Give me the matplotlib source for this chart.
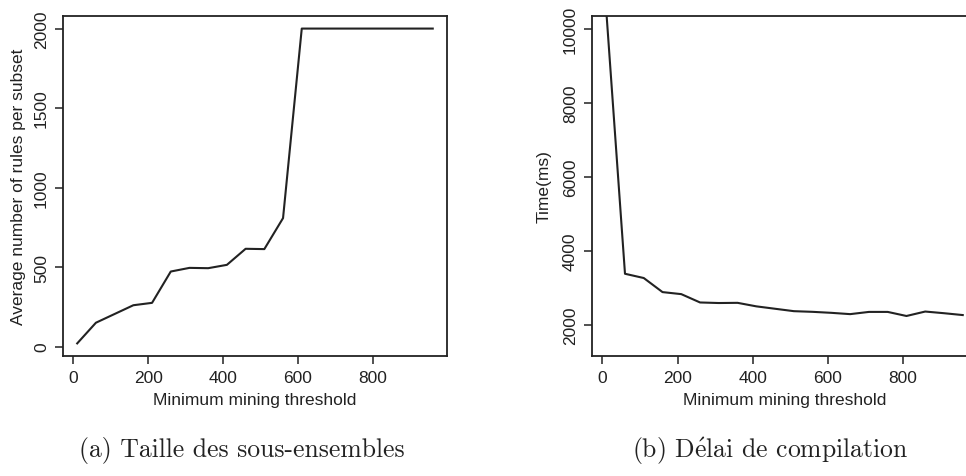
import numpy as np
from matplotlib import pyplot as plt

# minimum mining threshold (x), shared by both panels
thresholds = [10, 60, 110, 160, 210, 260, 310, 360, 410, 460,
              510, 560, 610, 660, 710, 760, 810, 860, 910, 960]

# (a) average number of rules per subset
rules_per_subset = [20, 150, 205, 260, 275, 472, 495, 493, 514, 615,
                    613, 808, 2000, 2000, 2000, 2000, 2000, 2000, 2000, 2000]

# (b) compilation time in ms (first value runs off the top of the plot)
compile_time_ms = [10500, 3380, 3265, 2885, 2830, 2605, 2590, 2595, 2500, 2435,
                   2370, 2352, 2325, 2290, 2350, 2350, 2240, 2360, 2315, 2265]

x_ticks = [0, 200, 400, 600, 800]
y_ticks_a = [0, 500, 1000, 1500, 2000]
y_ticks_b = [2000, 4000, 6000, 8000, 10000]

x_label = "Minimum mining threshold"
y_label_a = "Average number of rules per subset"
y_label_b = "Time(ms)"
caption_a = "(a) Taille des sous-ensembles"
# cmr10 has no é, so the accent goes through mathtext (cm fontset)
caption_b = r"(b) D$\acute{\mathrm{e}}$lai de compilation"

ink = "#222222"
plt.rcParams['font.family'] = ['Liberation Sans', 'DejaVu Sans']
plt.rcParams['font.size'] = 12.5
plt.rcParams['mathtext.fontset'] = 'cm'

fig = plt.figure(figsize=(9.66, 4.77), dpi=100)
ax_a = fig.add_axes([0.0652, 0.2516, 0.3975, 0.7128])
ax_b = fig.add_axes([0.6128, 0.2516, 0.3986, 0.7128])


def r_style(ax, yticks):
    for sp in ax.spines.values():
        sp.set_linewidth(1.3)
        sp.set_color(ink)
    ax.set_xticks(x_ticks)
    ax.set_yticks(yticks)
    ax.tick_params(direction='out', length=6, width=1.1, color=ink,
                   labelcolor=ink, pad=4)
    for lab in ax.get_yticklabels():
        lab.set_rotation(90)
        lab.set_va('center')


def pad_range(vals, frac=0.04):
    lo, hi = min(vals), max(vals)
    d = (hi - lo) * frac
    return lo - d, hi + d


# panel (a)
ax_a.plot(thresholds, rules_per_subset, color=ink, lw=1.5)
ax_a.set_xlim(*pad_range(thresholds))
ax_a.set_ylim(*pad_range(rules_per_subset))
r_style(ax_a, y_ticks_a)
ax_a.set_xlabel(x_label, color=ink, labelpad=5)
ax_a.set_ylabel(y_label_a, color=ink, labelpad=6)

# panel (b), y range fixed to 1500..10000 like the original
ax_b.plot(thresholds, compile_time_ms, color=ink, lw=1.5)
ax_b.set_xlim(*pad_range(thresholds))
ax_b.set_ylim(*pad_range([1500, 10000]))
r_style(ax_b, y_ticks_b)
ax_b.set_xlabel(x_label, color=ink, labelpad=5)
ax_b.set_ylabel(y_label_b, color=ink, labelpad=8)

fig.text(242 / 966, 1 - 451 / 477, caption_a, ha='center', va='center',
         fontsize=18.5, family=['cmr10', 'DejaVu Serif'], color=ink)
fig.text(770 / 966, 1 - 451 / 477, caption_b, ha='center', va='center',
         fontsize=18.5, family=['cmr10', 'DejaVu Serif'], color=ink)

fig.savefig("out.png", dpi=100)
